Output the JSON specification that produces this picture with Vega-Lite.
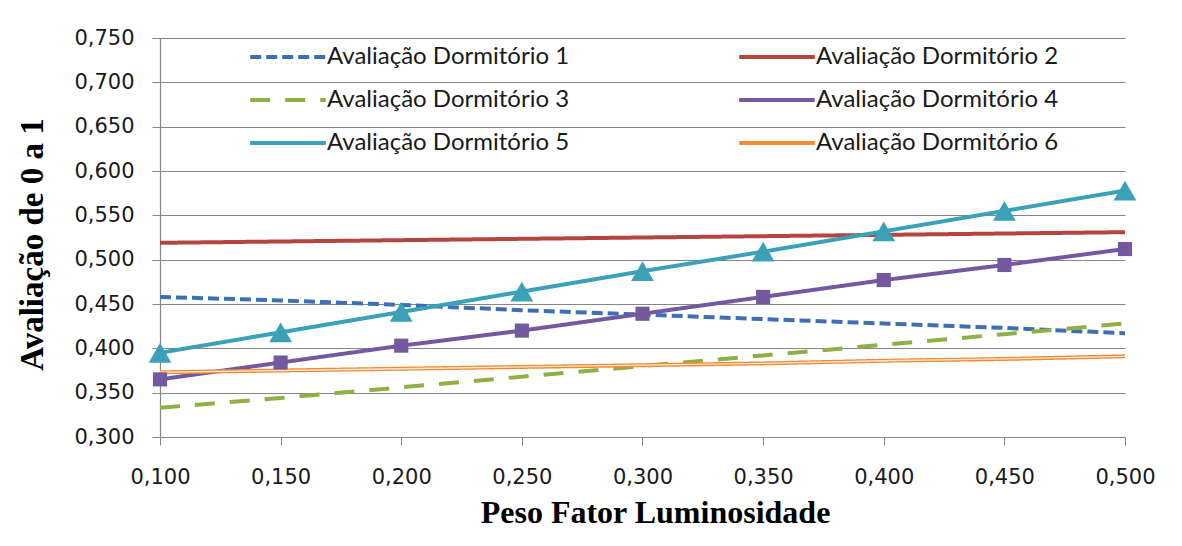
{
  "$schema": "https://vega.github.io/schema/vega-lite/v6.json",
  "width": 965,
  "height": 399,
  "autosize": {"type": "none"},
  "padding": {"left": 160, "top": 38, "right": 57, "bottom": 109},
  "background": "white",
  "data": {
    "values": [
      {"peso": 0.10, "serie": "Avaliação Dormitório 1", "nota": 0.458},
      {"peso": 0.15, "serie": "Avaliação Dormitório 1", "nota": 0.454},
      {"peso": 0.20, "serie": "Avaliação Dormitório 1", "nota": 0.449},
      {"peso": 0.25, "serie": "Avaliação Dormitório 1", "nota": 0.443},
      {"peso": 0.30, "serie": "Avaliação Dormitório 1", "nota": 0.438},
      {"peso": 0.35, "serie": "Avaliação Dormitório 1", "nota": 0.433},
      {"peso": 0.40, "serie": "Avaliação Dormitório 1", "nota": 0.428},
      {"peso": 0.45, "serie": "Avaliação Dormitório 1", "nota": 0.423},
      {"peso": 0.50, "serie": "Avaliação Dormitório 1", "nota": 0.417},
      {"peso": 0.10, "serie": "Avaliação Dormitório 2", "nota": 0.519},
      {"peso": 0.15, "serie": "Avaliação Dormitório 2", "nota": 0.5205},
      {"peso": 0.20, "serie": "Avaliação Dormitório 2", "nota": 0.522},
      {"peso": 0.25, "serie": "Avaliação Dormitório 2", "nota": 0.5235},
      {"peso": 0.30, "serie": "Avaliação Dormitório 2", "nota": 0.525},
      {"peso": 0.35, "serie": "Avaliação Dormitório 2", "nota": 0.5265},
      {"peso": 0.40, "serie": "Avaliação Dormitório 2", "nota": 0.528},
      {"peso": 0.45, "serie": "Avaliação Dormitório 2", "nota": 0.5295},
      {"peso": 0.50, "serie": "Avaliação Dormitório 2", "nota": 0.531},
      {"peso": 0.10, "serie": "Avaliação Dormitório 3", "nota": 0.333},
      {"peso": 0.15, "serie": "Avaliação Dormitório 3", "nota": 0.344},
      {"peso": 0.20, "serie": "Avaliação Dormitório 3", "nota": 0.356},
      {"peso": 0.25, "serie": "Avaliação Dormitório 3", "nota": 0.368},
      {"peso": 0.30, "serie": "Avaliação Dormitório 3", "nota": 0.380},
      {"peso": 0.35, "serie": "Avaliação Dormitório 3", "nota": 0.392},
      {"peso": 0.40, "serie": "Avaliação Dormitório 3", "nota": 0.404},
      {"peso": 0.45, "serie": "Avaliação Dormitório 3", "nota": 0.416},
      {"peso": 0.50, "serie": "Avaliação Dormitório 3", "nota": 0.428},
      {"peso": 0.10, "serie": "Avaliação Dormitório 4", "nota": 0.365},
      {"peso": 0.15, "serie": "Avaliação Dormitório 4", "nota": 0.384},
      {"peso": 0.20, "serie": "Avaliação Dormitório 4", "nota": 0.403},
      {"peso": 0.25, "serie": "Avaliação Dormitório 4", "nota": 0.420},
      {"peso": 0.30, "serie": "Avaliação Dormitório 4", "nota": 0.439},
      {"peso": 0.35, "serie": "Avaliação Dormitório 4", "nota": 0.458},
      {"peso": 0.40, "serie": "Avaliação Dormitório 4", "nota": 0.477},
      {"peso": 0.45, "serie": "Avaliação Dormitório 4", "nota": 0.494},
      {"peso": 0.50, "serie": "Avaliação Dormitório 4", "nota": 0.512},
      {"peso": 0.10, "serie": "Avaliação Dormitório 5", "nota": 0.395},
      {"peso": 0.15, "serie": "Avaliação Dormitório 5", "nota": 0.418},
      {"peso": 0.20, "serie": "Avaliação Dormitório 5", "nota": 0.441},
      {"peso": 0.25, "serie": "Avaliação Dormitório 5", "nota": 0.464},
      {"peso": 0.30, "serie": "Avaliação Dormitório 5", "nota": 0.487},
      {"peso": 0.35, "serie": "Avaliação Dormitório 5", "nota": 0.509},
      {"peso": 0.40, "serie": "Avaliação Dormitório 5", "nota": 0.532},
      {"peso": 0.45, "serie": "Avaliação Dormitório 5", "nota": 0.555},
      {"peso": 0.50, "serie": "Avaliação Dormitório 5", "nota": 0.578},
      {"peso": 0.10, "serie": "Avaliação Dormitório 6", "nota": 0.373},
      {"peso": 0.15, "serie": "Avaliação Dormitório 6", "nota": 0.375},
      {"peso": 0.20, "serie": "Avaliação Dormitório 6", "nota": 0.377},
      {"peso": 0.25, "serie": "Avaliação Dormitório 6", "nota": 0.379},
      {"peso": 0.30, "serie": "Avaliação Dormitório 6", "nota": 0.381},
      {"peso": 0.35, "serie": "Avaliação Dormitório 6", "nota": 0.383},
      {"peso": 0.40, "serie": "Avaliação Dormitório 6", "nota": 0.386},
      {"peso": 0.45, "serie": "Avaliação Dormitório 6", "nota": 0.388},
      {"peso": 0.50, "serie": "Avaliação Dormitório 6", "nota": 0.391}
    ]
  },
  "encoding": {
    "x": {
      "field": "peso",
      "type": "quantitative",
      "scale": {"domain": [0.1, 0.5], "nice": false, "zero": false},
      "axis": {
        "title": "Peso Fator Luminosidade",
        "values": [0.1, 0.15, 0.2, 0.25, 0.3, 0.35, 0.4, 0.45, 0.5],
        "labelExpr": "replace(format(datum.value, '.3f'), '.', ',')",
        "labelFlush": false,
        "grid": false,
        "tickSize": 8,
        "labelPadding": 21,
        "titlePadding": 10,
        "titleX": 495
      }
    },
    "y": {
      "field": "nota",
      "type": "quantitative",
      "scale": {"domain": [0.3, 0.75], "nice": false, "zero": false},
      "axis": {
        "title": "Avaliação de 0 a 1",
        "values": [0.3, 0.35, 0.4, 0.45, 0.5, 0.55, 0.6, 0.65, 0.7, 0.75],
        "labelExpr": "replace(format(datum.value, '.3f'), '.', ',')",
        "grid": true,
        "tickSize": 8,
        "labelPadding": 18,
        "titleFontSize": 33,
        "titleX": -111,
        "titleY": 206
      }
    }
  },
  "layer": [
    {
      "mark": {"type": "line", "strokeWidth": 4, "strokeCap": "butt"},
      "encoding": {
        "color": {
          "field": "serie",
          "type": "nominal",
          "title": null,
          "scale": {
            "domain": ["Avaliação Dormitório 1", "Avaliação Dormitório 2", "Avaliação Dormitório 3", "Avaliação Dormitório 4", "Avaliação Dormitório 5", "Avaliação Dormitório 6"],
            "range": ["#3d70b2", "#b5443f", "#8fb045", "#75599f", "#3aa1b9", "#f08a34"]
          }
        },
        "strokeDash": {
          "field": "serie",
          "type": "nominal",
          "title": null,
          "scale": {
            "domain": ["Avaliação Dormitório 1", "Avaliação Dormitório 2", "Avaliação Dormitório 3", "Avaliação Dormitório 4", "Avaliação Dormitório 5", "Avaliação Dormitório 6"],
            "range": [[11, 5], [1, 0], [20, 15], [1, 0], [1, 0], [1, 0]]
          }
        }
      }
    },
    {
      "transform": [{"filter": "datum.serie === 'Avaliação Dormitório 6'"}],
      "mark": {"type": "line", "strokeWidth": 1.3, "color": "#fde8d6"}
    },
    {
      "transform": [{"filter": "datum.serie === 'Avaliação Dormitório 4' || datum.serie === 'Avaliação Dormitório 5'"}],
      "mark": {"type": "point", "filled": true, "opacity": 1},
      "encoding": {
        "color": {"field": "serie", "type": "nominal"},
        "shape": {
          "field": "serie",
          "type": "nominal",
          "legend": null,
          "scale": {
            "domain": ["Avaliação Dormitório 4", "Avaliação Dormitório 5"],
            "range": ["square", "triangle-up"]
          }
        },
        "size": {
          "field": "serie",
          "type": "nominal",
          "legend": null,
          "scale": {
            "domain": ["Avaliação Dormitório 4", "Avaliação Dormitório 5"],
            "range": [200, 520]
          }
        }
      }
    }
  ],
  "config": {
    "view": {"stroke": null},
    "axis": {
      "domainColor": "#868686",
      "tickColor": "#868686",
      "gridColor": "#868686",
      "gridWidth": 1,
      "domainWidth": 1.2,
      "labelFont": "DejaVu Sans",
      "labelFontSize": 21,
      "labelColor": "#1a1a1a",
      "titleFont": "Liberation Serif",
      "titleFontSize": 32,
      "titleFontWeight": "bold",
      "titleColor": "#000000"
    },
    "legend": {
      "orient": "none",
      "direction": "horizontal",
      "legendX": 105,
      "legendY": -4,
      "columns": 2,
      "columnPadding": 161,
      "rowPadding": 8,
      "padding": 0,
      "symbolType": "M-1.8,0H1.8",
      "symbolSize": 1764,
      "symbolStrokeWidth": 4,
      "labelOffset": 16,
      "labelFont": "Lato",
      "labelFontSize": 24,
      "labelColor": "#1a1a1a",
      "labelLimit": 400
    }
  }
}
